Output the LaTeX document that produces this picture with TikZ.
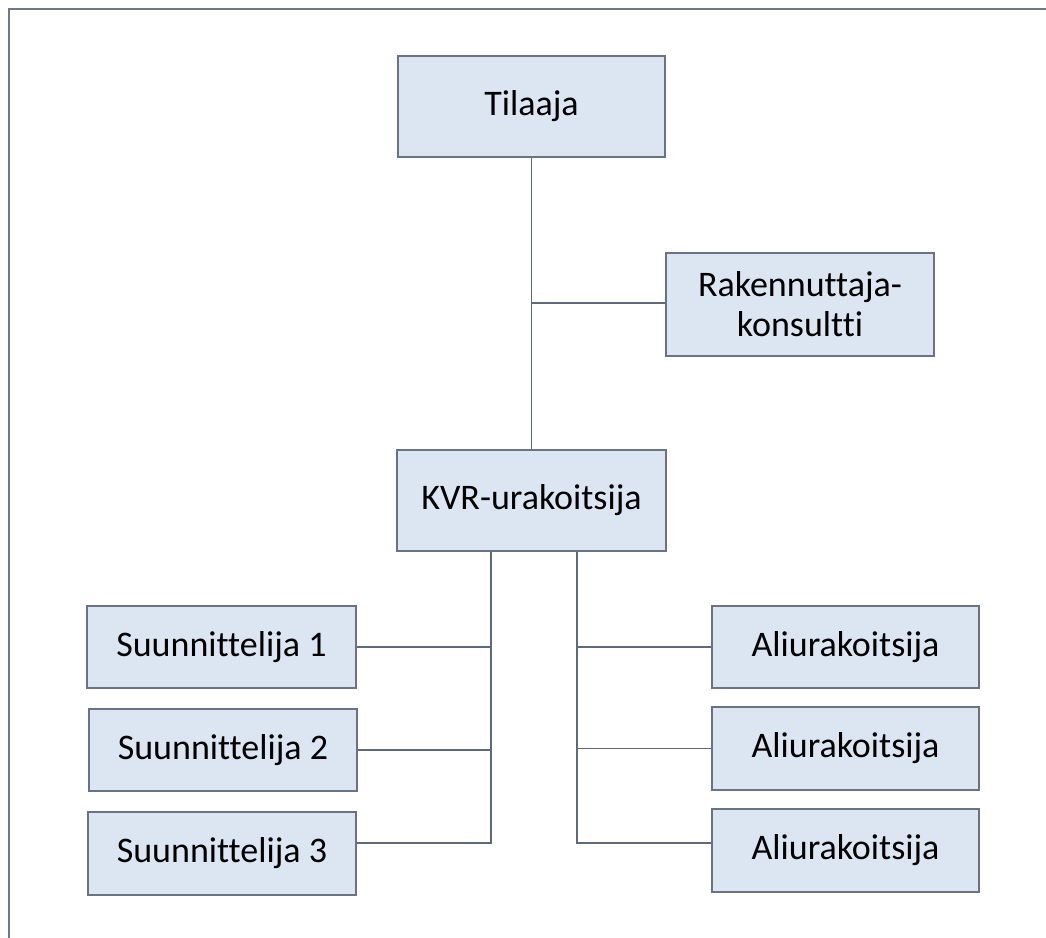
\documentclass[tikz,border=0pt]{standalone}
\usepackage{fontspec}
\setmainfont{Carlito}[Ligatures=NoCommon]
\definecolor{boxfill}{HTML}{DCE6F2}
\definecolor{boxline}{HTML}{6B7383}
\definecolor{conline}{HTML}{5F6B7A}
\definecolor{frameline}{HTML}{6F7886}
\begin{document}
\begin{tikzpicture}[x=1pt,y=-1pt,
  orgbox/.style={draw=boxline,line width=1.6pt,fill=boxfill,inner sep=0pt,
     align=center,font=\fontsize{36}{40}\selectfont,text=black},
  conn/.style={draw=conline,line width=1.4pt}]
\useasboundingbox (0,0) rectangle (1046,937);
\draw[frameline,line width=2pt] (8.5,940) -- (8.5,8.5) -- (1050,8.5);
% boxes
\node[orgbox,minimum width=267pt,minimum height=101pt] (T) at (531.5,106.5) {Tilaaja};
\node[orgbox,minimum width=268pt,minimum height=103pt] (R) at (800,304.5) {Rakennuttaja-\\konsultti};
\node[orgbox,minimum width=269pt,minimum height=101pt] (K) at (531.5,500.5) {KVR-urakoitsija};
\node[orgbox,minimum width=269pt,minimum height=82pt] (S1) at (221.5,647) {Suunnittelija 1};
\node[orgbox,minimum width=268pt,minimum height=82pt] (S2) at (223,750) {Suunnittelija 2};
\node[orgbox,minimum width=268pt,minimum height=83pt] (S3) at (222,853.5) {Suunnittelija 3};
\node[orgbox,minimum width=267pt,minimum height=82pt] (A1) at (845.5,647) {Aliurakoitsija};
\node[orgbox,minimum width=267pt,minimum height=83pt] (A2) at (845.5,748.5) {Aliurakoitsija};
\node[orgbox,minimum width=267pt,minimum height=83pt] (A3) at (845.5,850.5) {Aliurakoitsija};
% coordinates
\coordinate (lb) at (491,843);
\coordinate (rb) at (577,843);
\coordinate (rj) at (531,303);
% connectors
\draw[conn] (T.south) -- (K.north);
\draw[conn] (rj) -- (rj -| R.west);
\draw[conn] (K.south -| lb) -- (lb) -- (lb -| S3.east);
\draw[conn] (S1.east) -- (S1.east -| lb);
\draw[conn] (S2.east) -- (S2.east -| lb);
\draw[conn] (K.south -| rb) -- (rb) -- (rb -| A3.west);
\draw[conn] (A1.west) -- (A1.west -| rb);
\draw[conn] (A2.west) -- (A2.west -| rb);
\end{tikzpicture}
\end{document}
